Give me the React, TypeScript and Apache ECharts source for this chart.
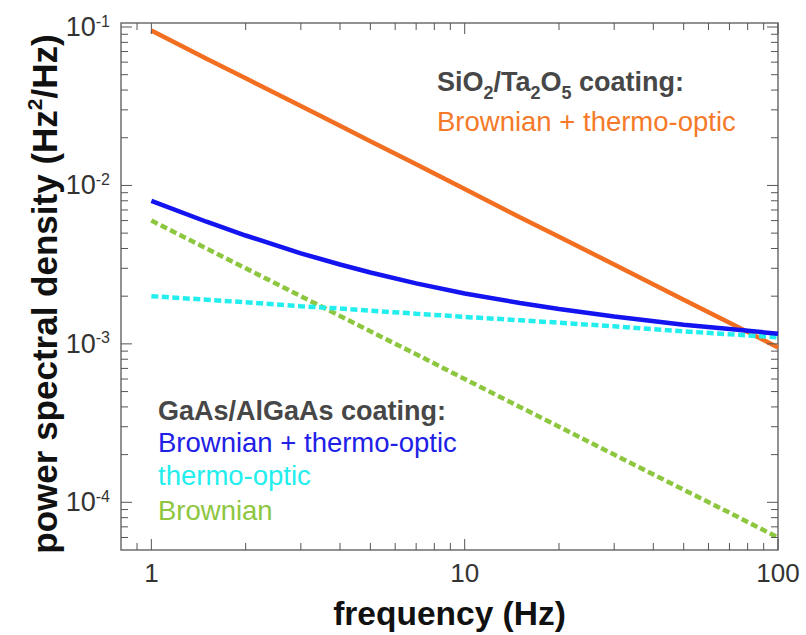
import React, { useEffect, useRef } from "react";
import * as echarts from "echarts";

// ---- data ----
const freq = [1, 1.5, 2, 3, 4, 5, 7, 10, 15, 20, 30, 50, 70, 100];
const sioBrownianThermo = [0.095, 0.063, 0.0475, 0.0317, 0.0238, 0.019, 0.0136, 0.0095, 0.0063, 0.00475, 0.00317, 0.0019, 0.00136, 0.00095];
const gaasBrownian = [0.006, 0.004, 0.003, 0.002, 0.0015, 0.0012, 0.00086, 0.0006, 0.0004, 0.0003, 0.0002, 0.00012, 0.000086, 0.00006];
const gaasThermo = [0.002, 0.0019, 0.00183, 0.00173, 0.00167, 0.00162, 0.00155, 0.00148, 0.00141, 0.00136, 0.00129, 0.0012, 0.00115, 0.0011];
const gaasTotal = [0.008, 0.0059, 0.00483, 0.00373, 0.00317, 0.00282, 0.00241, 0.00208, 0.00181, 0.00166, 0.00149, 0.00132, 0.00124, 0.00116];

const xTickLabels = [1, 10, 100];
const yTickLabels = [1e-4, 1e-3, 1e-2, 1e-1];
const xMinorTicks = [0.9, 2, 3, 4, 5, 6, 7, 8, 9, 20, 30, 40, 50, 60, 70, 80, 90];
const yMinorTicks = [6e-5, 7e-5, 8e-5, 9e-5, 2e-4, 3e-4, 4e-4, 5e-4, 6e-4, 7e-4, 8e-4, 9e-4, 2e-3, 3e-3, 4e-3, 5e-3, 6e-3, 7e-3, 8e-3, 9e-3, 2e-2, 3e-2, 4e-2, 5e-2, 6e-2, 7e-2, 8e-2, 9e-2];

const X_MIN = 0.8;
const X_MAX = 100;
const Y_MIN = 5e-5;
const Y_MAX = 0.106;

const FONT = "'Liberation Sans', Arial, sans-serif";

function zip(xs: number[], ys: number[]) {
  return xs.map((x, i) => [x, ys[i]]);
}

function isPow10(v: number) {
  const e = Math.round(Math.log10(v));
  return Math.abs(v - Math.pow(10, e)) / v < 1e-6;
}

export default function App() {
  const ref = useRef<HTMLDivElement>(null);
  useEffect(() => {
    if (!ref.current) return;
    const chart = echarts.init(ref.current, undefined, { renderer: "svg" });
    const tickColor = "#555";
    const mk = (x1: number, y1: number, x2: number, y2: number) => ({
      type: "line",
      shape: { x1, y1, x2, y2 },
      style: { stroke: tickColor, lineWidth: 1 },
    });
    const option: any = {
      animation: false,
      backgroundColor: "#ffffff",
      grid: {
        left: 121,
        right: 28,
        top: 23,
        bottom: 83,
        show: true,
        borderColor: "#6e6e6e",
        borderWidth: 1.5,
        backgroundColor: "transparent",
      },
      xAxis: {
        type: "log",
        logBase: 10,
        min: X_MIN,
        max: X_MAX,
        axisLine: { show: false },
        axisTick: { show: false },
        splitLine: { show: false },
        axisLabel: {
          margin: 10,
          fontSize: 26,
          fontFamily: FONT,
          color: "#333",
          showMinLabel: true,
          showMaxLabel: true,
          formatter: (v: number) => {
            const hit = xTickLabels.find((t) => Math.abs(v - t) / t < 1e-6);
            return hit !== undefined ? String(hit) : "";
          },
        },
        name: "frequency (Hz)",
        nameLocation: "middle",
        nameGap: 46,
        nameTextStyle: { fontSize: 33.5, fontWeight: "bold", fontFamily: FONT, color: "#111" },
      },
      yAxis: {
        type: "log",
        logBase: 10,
        min: Y_MIN,
        max: Y_MAX,
        axisLine: { show: false },
        axisTick: { show: false },
        splitLine: { show: false },
        axisLabel: {
          margin: 11,
          fontSize: 27,
          fontFamily: FONT,
          color: "#333",
          formatter: (v: number) => {
            if (!isPow10(v)) return "";
            const e = Math.round(Math.log10(v));
            if (!yTickLabels.some((t) => Math.abs(Math.log10(t) - e) < 1e-6)) return "";
            return `{b|10}{s|${e}}`;
          },
          rich: {
            b: { fontSize: 27, lineHeight: 28, fontFamily: FONT, color: "#333" },
            s: { fontSize: 16, verticalAlign: "top", lineHeight: 15, fontFamily: FONT, color: "#333" },
          },
        },
      },
      series: [
        {
          type: "custom",
          coordinateSystem: "cartesian2d",
          clip: false,
          silent: true,
          z: 5,
          data: [[1, 0.001]],
          renderItem: (params: any, api: any) => {
            const cs = params.coordSys;
            const left = cs.x;
            const right = cs.x + cs.width;
            const top = cs.y;
            const bottom = cs.y + cs.height;
            const children: any[] = [];
            const addX = (v: number, len: number) => {
              const px = api.coord([v, Y_MIN])[0];
              children.push(mk(px, bottom, px, bottom - len), mk(px, top, px, top + len));
            };
            const addY = (v: number, len: number) => {
              const py = api.coord([X_MIN, v])[1];
              children.push(mk(left, py, left + len, py), mk(right, py, right - len, py));
            };
            xTickLabels.forEach((v) => addX(v, 11));
            xMinorTicks.forEach((v) => addX(v, 7));
            yTickLabels.forEach((v) => addY(v, 11));
            yMinorTicks.forEach((v) => addY(v, 7));
            return { type: "group", children };
          },
        },
        {
          name: "SiO2/Ta2O5 Brownian + thermo-optic",
          type: "line",
          data: zip(freq, sioBrownianThermo),
          showSymbol: false,
          lineStyle: { color: "#F26F21", width: 4.5 },
          z: 2,
        },
        {
          name: "GaAs/AlGaAs Brownian",
          type: "line",
          data: zip(freq, gaasBrownian),
          showSymbol: false,
          lineStyle: { color: "#8DC63F", width: 4.5, type: [7, 3.5] },
          z: 3,
        },
        {
          name: "GaAs/AlGaAs thermo-optic",
          type: "line",
          data: zip(freq, gaasThermo),
          showSymbol: false,
          lineStyle: { color: "#22EEEE", width: 4.5, type: [7, 3.5] },
          z: 3,
        },
        {
          name: "GaAs/AlGaAs Brownian + thermo-optic",
          type: "line",
          data: zip(freq, gaasTotal),
          showSymbol: false,
          lineStyle: { color: "#1414F0", width: 4.5 },
          z: 4,
        },
      ],
      graphic: [
        {
          type: "text",
          x: 44,
          y: 294,
          rotation: Math.PI / 2,
          style: {
            text: "power spectral density (Hz{sup|2}/Hz)",
            fontSize: 35,
            fontWeight: "bold",
            fontFamily: FONT,
            fill: "#111",
            align: "center",
            verticalAlign: "middle",
            lineHeight: 40,
            rich: {
              sup: { fontSize: 21, fontWeight: "bold", fontFamily: FONT, fill: "#111", verticalAlign: "top", lineHeight: 21 },
            },
          },
        },
        {
          type: "text",
          x: 437,
          y: 82,
          style: {
            text: "SiO{sub|2}/Ta{sub|2}O{sub|5} coating:",
            fontSize: 27,
            fontWeight: "bold",
            fontFamily: FONT,
            fill: "#474747",
            verticalAlign: "middle",
            align: "left",
            lineHeight: 40,
            rich: {
              sub: { fontSize: 18, fontWeight: "bold", fontFamily: FONT, fill: "#474747", verticalAlign: "bottom", lineHeight: 18 },
            },
          },
        },
        {
          type: "text",
          x: 437,
          y: 121,
          style: { text: "Brownian + thermo-optic", fontSize: 27.5, fontFamily: FONT, fill: "#F47A2A", verticalAlign: "middle" },
        },
        {
          type: "text",
          x: 158,
          y: 411,
          style: { text: "GaAs/AlGaAs coating:", fontSize: 27, fontWeight: "bold", fontFamily: FONT, fill: "#474747", verticalAlign: "middle" },
        },
        {
          type: "text",
          x: 158,
          y: 442,
          style: { text: "Brownian + thermo-optic", fontSize: 27.5, fontFamily: FONT, fill: "#2020E6", verticalAlign: "middle" },
        },
        {
          type: "text",
          x: 158,
          y: 475,
          style: { text: "thermo-optic", fontSize: 27.5, fontFamily: FONT, fill: "#22EEEE", verticalAlign: "middle" },
        },
        {
          type: "text",
          x: 158,
          y: 510,
          style: { text: "Brownian", fontSize: 27.5, fontFamily: FONT, fill: "#8DC63F", verticalAlign: "middle" },
        },
      ],
    };
    chart.setOption(option);
    return () => chart.dispose();
  }, []);
  return (
    <div
      ref={ref}
      style={{ position: "fixed", left: 0, top: 0, width: 806, height: 635, background: "#fff" }}
    />
  );
}
